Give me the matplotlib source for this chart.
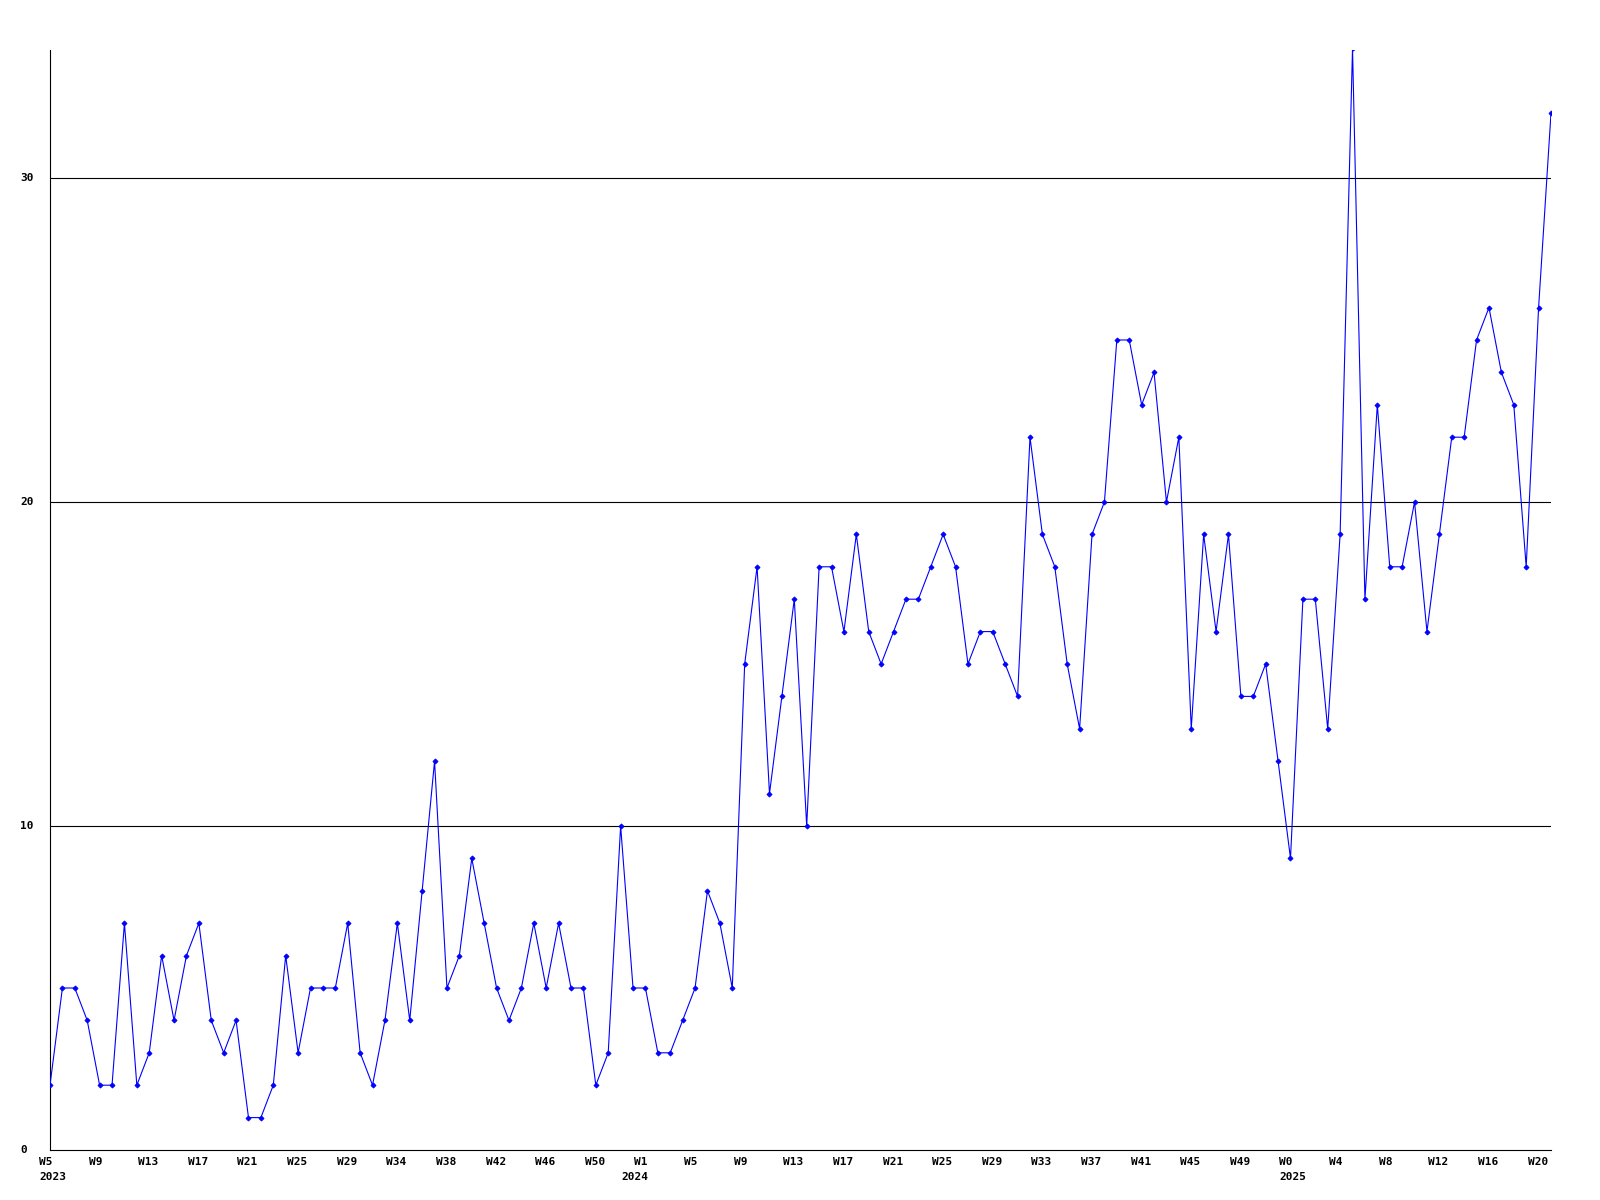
import matplotlib
matplotlib.use('Agg')
import matplotlib.pyplot as plt
import matplotlib.transforms as mtransforms

# weekly counts, first point is W5 2023
values = [2, 5, 5, 4, 2, 2, 7, 2, 3, 6,
          4, 6, 7, 4, 3, 4, 1, 1, 2, 6,
          3, 5, 5, 5, 7, 3, 2, 4, 7, 4,
          8, 12, 5, 6, 9, 7, 5, 4, 5, 7,
          5, 7, 5, 5, 2, 3, 10, 5, 5, 3,
          3, 4, 5, 8, 7, 5, 15, 18, 11, 14,
          17, 10, 18, 18, 16, 19, 16, 15, 16, 17,
          17, 18, 19, 18, 15, 16, 16, 15, 14, 22,
          19, 18, 15, 13, 19, 20, 25, 25, 23, 24,
          20, 22, 13, 19, 16, 19, 14, 14, 15, 12,
          9, 17, 17, 13, 19, 34, 17, 23, 18, 18,
          20, 16, 19, 22, 22, 25, 26, 24, 23, 18,
          26, 32]

# one label every 4 weeks
week_labels = ['W5', 'W9', 'W13', 'W17', 'W21', 'W25', 'W29', 'W34', 'W38', 'W42', 'W46',
               'W50', 'W1', 'W5', 'W9', 'W13', 'W17', 'W21', 'W25', 'W29', 'W33', 'W37',
               'W41', 'W45', 'W49', 'W0', 'W4', 'W8', 'W12', 'W16', 'W20']
label_step = 4

# year labels: (index of week label, text)
year_labels = [(0, '2023'), (12, '2024'), (25, '2025')]

y_ticks = [0, 10, 20, 30]

font = dict(family='DejaVu Sans Mono', weight='bold', fontsize=8, color='black')

fig = plt.figure(figsize=(16, 12), dpi=100)
ax = fig.add_axes([50 / 1600, 50 / 1200, 1501 / 1600, 1100 / 1200])

x = list(range(len(values)))
ax.plot(x, values, color='#0000ff', linewidth=0.8, marker='D', markersize=2.6,
        markeredgewidth=0.6, markerfacecolor='#0000ff', markeredgecolor='#0000ff', zorder=3)

ax.set_xlim(0, len(values) - 1)
ax.set_ylim(0, 33.95)

# horizontal grid lines
for v in y_ticks[1:]:
    ax.axhline(v, color='black', linewidth=0.8, zorder=1)

for side in ['top', 'right']:
    ax.spines[side].set_visible(False)
for side in ['left', 'bottom']:
    ax.spines[side].set_linewidth(0.8)
    ax.spines[side].set_color('black')
ax.set_xticks([])
ax.set_yticks([])

# y labels at the left edge of the figure
ytrans = mtransforms.blended_transform_factory(fig.transFigure, ax.transData)
for v in y_ticks:
    ax.text(20 / 1600, v, str(v), transform=ytrans, ha='left', va='center', **font)

# week labels under the axis
base = mtransforms.blended_transform_factory(ax.transData, fig.transFigure)
wtrans = mtransforms.offset_copy(base, fig=fig, x=-11, y=0, units='dots')
for i, lab in enumerate(week_labels):
    ax.text(i * label_step, (1200 - 1162) / 1200, lab, transform=wtrans,
            ha='left', va='center', **font)

for i, lab in year_labels:
    shift = -24 if lab == '2024' else -11
    ytr = mtransforms.offset_copy(base, fig=fig, x=shift, y=0, units='dots')
    ax.text(i * label_step, (1200 - 1177) / 1200, lab, transform=ytr,
            ha='left', va='center', **font)

fig.savefig('out.png', dpi=100, facecolor='white')
